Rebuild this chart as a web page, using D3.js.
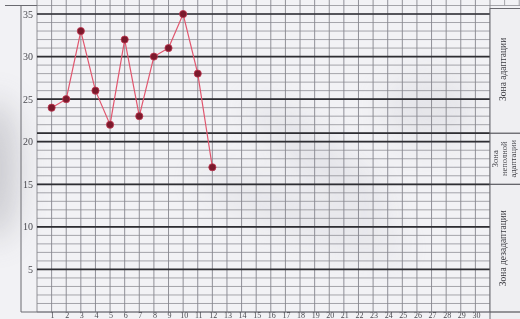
<!DOCTYPE html>
<html><head><meta charset="utf-8">
<script src="https://cdn.jsdelivr.net/npm/d3@7"></script>
<style>html,body{margin:0;padding:0;background:#eeeef1;}svg{display:block;}</style>
</head><body>
<svg id="chart" width="520" height="319"></svg>
<script>
// Data
const days = [1,2,3,4,5,6,7,8,9,10,11,12];
const values = [24,25,33,26,22,32,23,30,31,35,28,17];
const xTicks = d3.range(1,31);
const yTicks = [5,10,15,20,25,30,35];
const boldLevels = [5,10,15,20,21,25,30,35];
const zones = [
  {name:["Зона адаптации"], from:21, to:36.5},
  {name:["Зона","неполной","адаптации"], from:15, to:21},
  {name:["Зона дезадаптации"], from:0, to:15}
];

const svg = d3.select("#chart");
const W = 520, H = 319;
const x = d3.scaleLinear().domain([0,31]).range([37,490]);
const y = d3.scaleLinear().domain([0,36]).range([312,5.5]);

// paper background with soft shading
const defs = svg.append("defs");
const blur = defs.append("filter").attr("id","blur").attr("x","-50%").attr("y","-50%").attr("width","200%").attr("height","200%");
blur.append("feGaussianBlur").attr("stdDeviation",16);
svg.append("rect").attr("width",W).attr("height",H).attr("fill","#f2f2f5");
const shade = svg.append("g").attr("filter","url(#blur)").attr("opacity",0.45);
shade.append("ellipse").attr("cx",-5).attr("cy",170).attr("rx",22).attr("ry",70).attr("fill","#9a9aa2");
shade.append("ellipse").attr("cx",320).attr("cy",160).attr("rx",90).attr("ry",18).attr("transform","rotate(40,320,160)").attr("fill","#cfcfd6");
shade.append("ellipse").attr("cx",300).attr("cy",215).attr("rx",110).attr("ry",16).attr("transform","rotate(20,300,215)").attr("fill","#d2d2d8");
shade.append("ellipse").attr("cx",430).attr("cy",110).attr("rx",45).attr("ry",35).attr("fill","#d6d6dc");

const g = svg.append("g");

// minor grid
const ints = d3.range(0,37);
g.selectAll("line.hmin").data(ints).join("line")
  .attr("x1",x(0)).attr("x2",d=>d===36?W:x(31))
  .attr("y1",d=>y(d)).attr("y2",d=>y(d))
  .attr("stroke","#909097").attr("stroke-width",0.8);
g.selectAll("line.vmin").data(d3.range(0,32)).join("line")
  .attr("x1",d=>x(d)).attr("x2",d=>x(d))
  .attr("y1",0).attr("y2",y(0))
  .attr("stroke","#86868d").attr("stroke-width",0.9);
g.selectAll("line.vtop").data(d3.range(32,35)).join("line")
  .attr("x1",d=>x(d)).attr("x2",d=>x(d)).attr("y1",0).attr("y2",y(36))
  .attr("stroke","#909097").attr("stroke-width",0.8);

// bold lines
g.selectAll("line.bold").data(boldLevels).join("line")
  .attr("x1",x(0)).attr("x2",d=>(d===15||d===21)?W:x(31))
  .attr("y1",d=>y(d)).attr("y2",d=>y(d))
  .attr("stroke","#2e2e33").attr("stroke-width",1.7);

// left frame & bottom
g.append("line").attr("x1",21).attr("x2",21).attr("y1",y(36)).attr("y2",y(0)).attr("stroke","#6a6a70").attr("stroke-width",1);
g.append("line").attr("x1",5).attr("x2",x(0)).attr("y1",y(36)).attr("y2",y(36)).attr("stroke","#6a6a70").attr("stroke-width",1);
g.append("line").attr("x1",21).attr("x2",x(31)).attr("y1",y(0)).attr("y2",y(0)).attr("stroke","#6a6a70").attr("stroke-width",1);

// right panel
const panel = svg.append("g");
panel.append("rect").attr("x",x(31)).attr("y",y(36)+3).attr("width",W-x(31)+2).attr("height",H).attr("fill","#efeff2").attr("stroke","#6a6a70").attr("stroke-width",1);
zones.forEach(z=>{
  panel.append("line").attr("x1",x(31)).attr("x2",W).attr("y1",y(z.from)).attr("y2",y(z.from)).attr("stroke","#55555b").attr("stroke-width",1.2);
  const cy = (y(z.from)+y(Math.min(z.to,36)))/2;
  const n = z.name.length;
  z.name.forEach((t,i)=>{
    const cx = (n===1?504:505) + (i-(n-1)/2)*9;
    panel.append("text").attr("transform",`translate(${cx},${cy}) rotate(-90)`)
      .attr("text-anchor","middle").attr("dominant-baseline","middle")
      .attr("font-family","Liberation Serif, DejaVu Serif, serif").attr("font-size",n===1?9.5:8.5)
      .attr("fill","#3a3a40").text(t);
  });
});

// axis labels
g.selectAll("text.yl").data(yTicks).join("text")
  .attr("x",33).attr("y",d=>y(d)).attr("dy","0.35em").attr("text-anchor","end")
  .attr("font-family","Liberation Serif, DejaVu Serif, serif").attr("font-size",10)
  .attr("fill","#4a4a50").text(d=>d);
g.selectAll("text.xl").data(xTicks).join("text")
  .attr("x",d=>x(d)+1).attr("y",H-1).attr("text-anchor","middle")
  .attr("font-family","Liberation Serif, DejaVu Serif, serif").attr("font-size",8)
  .attr("fill","#4a4a50").text(d=>d);

// data line
const pts = days.map((d,i)=>[d,values[i]]);
g.append("path").datum(pts)
  .attr("d",d3.line().x(d=>x(d[0])).y(d=>y(d[1])))
  .attr("fill","none").attr("stroke","#e0566e").attr("stroke-width",1.2);
g.selectAll("circle.pt").data(pts).join("circle")
  .attr("cx",d=>x(d[0])).attr("cy",d=>y(d[1])).attr("r",3.6)
  .attr("fill","#7a1a2c").attr("stroke","#c0354f").attr("stroke-width",0.8);
</script>
</body></html>
